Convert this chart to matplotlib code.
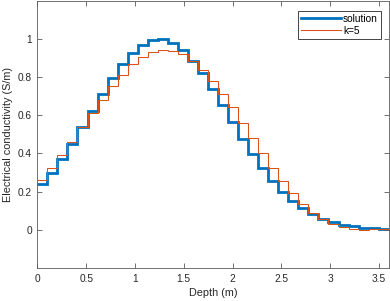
import numpy as np
import matplotlib
matplotlib.use("Agg")
import matplotlib.pyplot as plt

plt.rcParams['font.family'] = ['Liberation Sans', 'DejaVu Sans']

depth_max = 3.6
n_layers = 35

solution = [0.238, 0.299, 0.371, 0.452, 0.537, 0.625, 0.712, 0.794, 0.868, 0.926,
            0.970, 0.994, 0.999, 0.981, 0.942, 0.886, 0.820, 0.739, 0.652, 0.566,
            0.478, 0.397, 0.323, 0.256, 0.199, 0.152, 0.112, 0.082, 0.056, 0.039,
            0.027, 0.018, 0.012, 0.008, 0.005]
k5 = [0.259, 0.324, 0.391, 0.461, 0.537, 0.610, 0.682, 0.751, 0.813, 0.866,
      0.906, 0.930, 0.942, 0.938, 0.921, 0.886, 0.837, 0.779, 0.713, 0.641,
      0.561, 0.480, 0.402, 0.325, 0.256, 0.193, 0.137, 0.089, 0.056, 0.030,
      0.014, 0.005, 0.001, 0.003, 0.005]

xticks = [0, 0.5, 1, 1.5, 2, 2.5, 3, 3.5]
xticklabels = ['0', '0.5', '1', '1.5', '2', '2.5', '3', '3.5']
yticks = [0, 0.2, 0.4, 0.6, 0.8, 1]
yticklabels = ['0', '0.2', '0.4', '0.6', '0.8', '1']

edges = np.linspace(0, depth_max, n_layers + 1)

fig = plt.figure(figsize=(3.9, 3.01), dpi=100)
ax = fig.add_axes([0.0957, 0.1096, 0.901, 0.888])

ax.stairs(solution, edges, baseline=None, color='#0072BD', linewidth=2.0, label='solution')
ax.stairs(k5, edges, baseline=None, color='#D95319', linewidth=0.75, label='k=5')

ax.set_xlim(0, depth_max)
ax.set_ylim(-0.2, 1.2)
ax.set_xticks(xticks)
ax.set_xticklabels(xticklabels)
ax.set_yticks(yticks)
ax.set_yticklabels(yticklabels)

axcol = '#262626'
for s in ax.spines.values():
    s.set_color('#5a5a5a')
    s.set_linewidth(0.6)
ax.tick_params(direction='in', length=3.5, width=0.6, colors='#5a5a5a',
               labelcolor=axcol, labelsize=7.3, top=True, right=True, pad=4)

ax.set_xlabel('Depth (m)', fontsize=7.8, color=axcol, labelpad=3)
ax.set_ylabel('Electrical conductivity (S/m)', fontsize=7.8, color=axcol, labelpad=3)

leg = ax.legend(loc='upper right', fontsize=7.3, frameon=True, fancybox=False,
                framealpha=1, edgecolor='#262626', borderpad=0.3, handlelength=3.9,
                handletextpad=0.2, labelspacing=0.2, borderaxespad=0.0,
                bbox_to_anchor=(0.978, 0.962))
leg.get_frame().set_linewidth(0.6)

fig.savefig('out.png', dpi=100)
